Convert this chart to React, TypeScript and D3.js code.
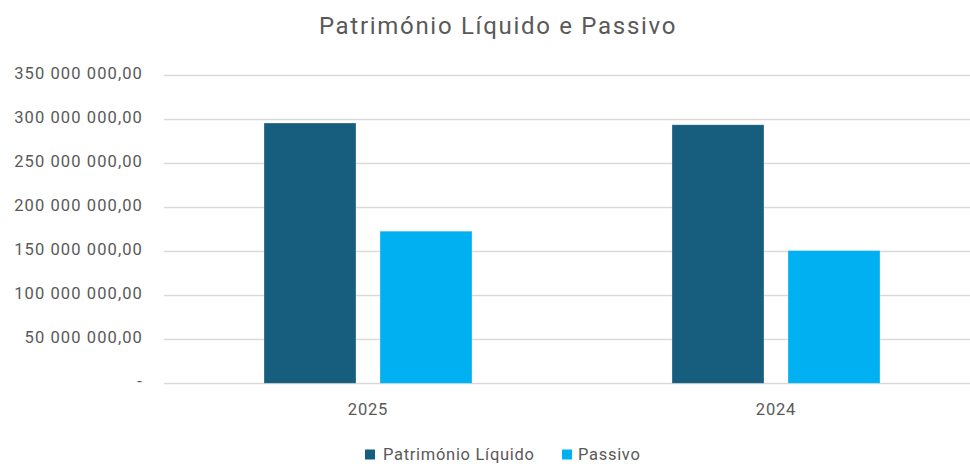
import React, { useEffect, useRef } from "react";
import * as d3 from "d3";

const categories = ["2025", "2024"];
const seriesNames = ["Património Líquido", "Passivo"];
const patrimonioLiquido = [295500000, 293500000];
const passivo = [172700000, 150700000];
const yTicks = [0, 50000000, 100000000, 150000000, 200000000, 250000000, 300000000, 350000000];

const colors = ["#175d7e", "#00b0f0"];
const textColor = "#595959";
const font = "Roboto, sans-serif";

const fmt = (v: number) => {
  if (v === 0) return "-";
  const s = d3.format(",.2f")(v);
  return s.replace(/,/g, " ").replace(".", ",");
};

const App = () => {
  const ref = useRef<SVGSVGElement>(null);

  useEffect(() => {
    document.body.style.margin = "0";
    const svg = d3.select(ref.current);
    svg.selectAll("*").remove();

    const width = 970;
    const height = 464;
    const left = 164;
    const right = 980;
    const top = 75;
    const bottom = 383.3;

    const x = d3.scaleBand().domain(categories).range([left, right]).padding(0);
    const inner = d3
      .scaleBand()
      .domain(seriesNames)
      .range([0, x.bandwidth()])
      .paddingInner(0.207)
      .paddingOuter(0.862);
    const y = d3.scaleLinear().domain([0, 350000000]).range([bottom, top]);

    svg.append("rect").attr("width", width).attr("height", height).attr("fill", "#fff");

    // title
    svg
      .append("text")
      .attr("x", 498)
      .attr("y", 34)
      .attr("text-anchor", "middle")
      .attr("fill", textColor)
      .style("font-family", font)
      .style("font-size", "24px")
      .style("letter-spacing", "1.7px")
      .text("Património Líquido e Passivo");

    // gridlines
    svg
      .append("g")
      .selectAll("line")
      .data(yTicks)
      .join("line")
      .attr("x1", left)
      .attr("x2", right)
      .attr("y1", (d) => Math.round(y(d)) + 0.5)
      .attr("y2", (d) => Math.round(y(d)) + 0.5)
      .attr("stroke", "#d9d9d9")
      .attr("stroke-width", 1.3);

    // y labels
    svg
      .append("g")
      .selectAll("text")
      .data(yTicks)
      .join("text")
      .attr("x", 143)
      .attr("y", (d) => y(d) + 4)
      .attr("text-anchor", "end")
      .attr("fill", textColor)
      .style("font-family", font)
      .style("font-size", "16.5px")
      .style("letter-spacing", "1.1px")
      .text((d) => fmt(d));

    const values = [patrimonioLiquido, passivo];

    // bars
    seriesNames.forEach((s, si) => {
      svg
        .append("g")
        .selectAll("rect")
        .data(categories)
        .join("rect")
        .attr("x", (c) => (x(c) as number) + (inner(s) as number))
        .attr("width", inner.bandwidth())
        .attr("y", (c, i) => y(values[si][i]))
        .attr("height", (c, i) => bottom - y(values[si][i]))
        .attr("fill", colors[si])
        .attr("stroke", "#ffffff")
        .attr("stroke-opacity", 0.4)
        .attr("stroke-width", 0.75);
    });

    // x labels
    svg
      .append("g")
      .selectAll("text")
      .data(categories)
      .join("text")
      .attr("x", (c) => (x(c) as number) + x.bandwidth() / 2)
      .attr("y", 415)
      .attr("text-anchor", "middle")
      .attr("fill", textColor)
      .style("font-family", font)
      .style("font-size", "16.5px")
      .style("letter-spacing", "0.8px")
      .text((c) => c);

    // legend
    const legendItems = [
      { name: seriesNames[0], sx: 365, tx: 383 },
      { name: seriesNames[1], sx: 562, tx: 578 },
    ];
    const lg = svg.append("g");
    legendItems.forEach((it, i) => {
      lg.append("rect")
        .attr("x", it.sx)
        .attr("y", 449.5)
        .attr("width", 10)
        .attr("height", 10)
        .attr("fill", colors[i]);
      lg.append("text")
        .attr("x", it.tx)
        .attr("y", 459.5)
        .attr("fill", textColor)
        .style("font-family", font)
        .style("font-size", "16.5px")
        .style("letter-spacing", "0.7px")
        .text(it.name);
    });
  }, []);

  return <svg ref={ref} width={970} height={464} style={{ display: "block" }} />;
};

export default App;
